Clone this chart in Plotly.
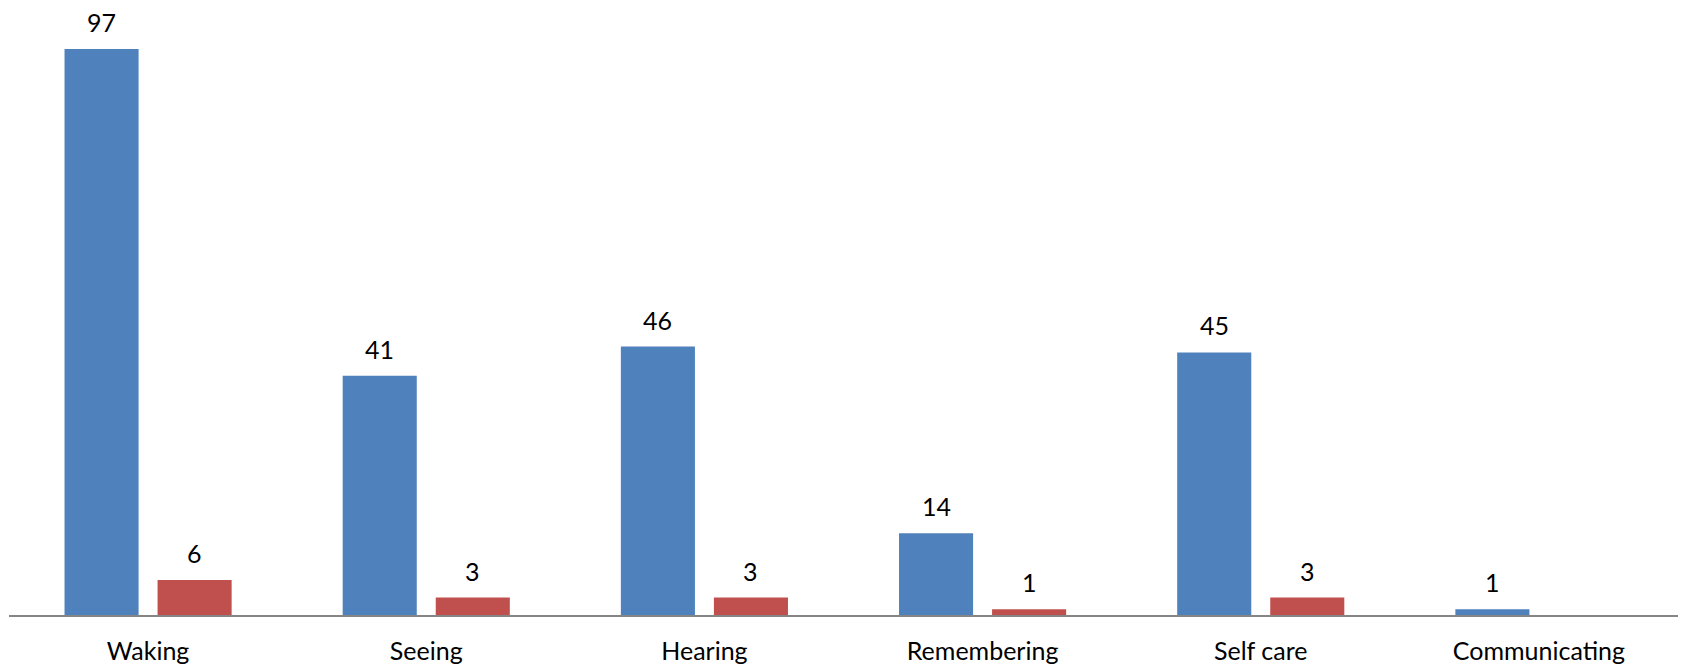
import plotly.graph_objects as go

# Functional domains and counts for the two groups
categories = ["Waking", "Seeing", "Hearing", "Remembering", "Self care", "Communicating"]
series_a = [97, 41, 46, 14, 45, 1]
series_b = [6, 3, 3, 1, 3, None]

BLUE = "#4F81BD"
RED = "#C0504D"
FONT = "Lato, 'Open Sans', sans-serif"

fig = go.Figure()
fig.add_trace(go.Bar(x=categories, y=series_a, marker_color=BLUE, marker_line_width=0, name="A"))
fig.add_trace(go.Bar(x=categories, y=series_b, marker_color=RED, marker_line_width=0, name="B"))

# Value labels placed above each bar, shifted to the bar's slot within the group
slot_px = 93
for vals, shift in ((series_a, -slot_px / 2), (series_b, slot_px / 2)):
    for cat, v in zip(categories, vals):
        if v is None:
            continue
        fig.add_annotation(
            x=cat, y=v, text=str(v), showarrow=False,
            xshift=shift, yshift=27, yanchor="middle",
            font=dict(family=FONT, size=25, color="#000000"),
        )

fig.update_layout(
    width=1683, height=666,
    margin=dict(l=9, r=5, t=0, b=51),
    paper_bgcolor="white", plot_bgcolor="white",
    barmode="group", bargap=0.331, bargroupgap=0.204,
    showlegend=False,
    font=dict(family=FONT, size=25, color="#000000"),
)
fig.update_xaxes(
    showline=True, linecolor="#868686", linewidth=2,
    showgrid=False, ticks="", ticklabelstandoff=13,
    tickfont=dict(family=FONT, size=25, color="#000000"),
)
fig.update_yaxes(visible=False, range=[0, 105.4], showgrid=False, zeroline=False)

fig.write_html("out.html")
